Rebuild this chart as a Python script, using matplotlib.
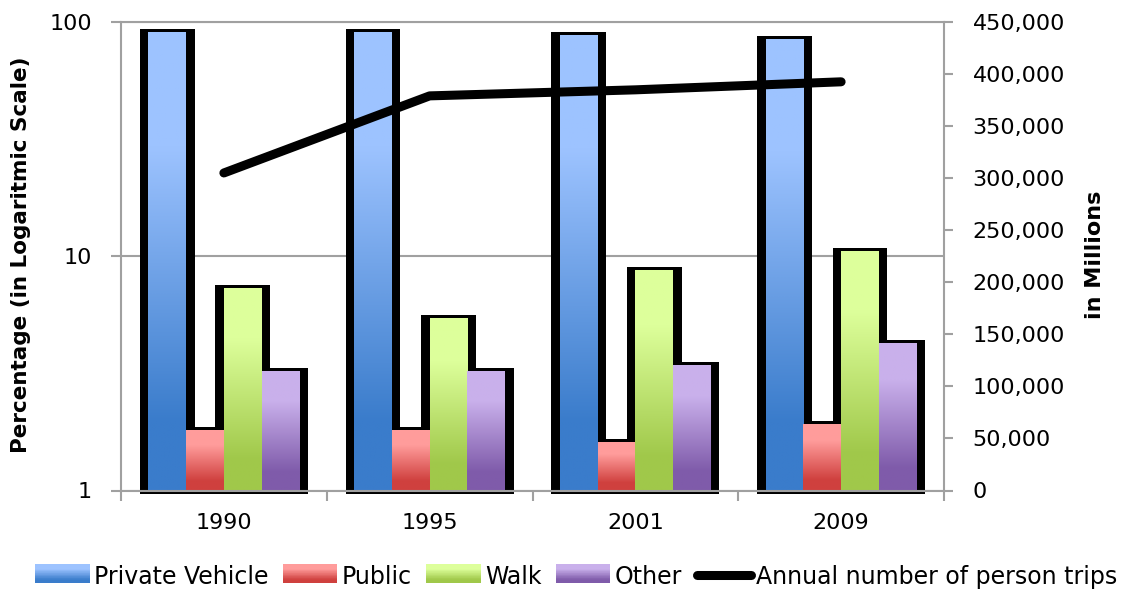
import numpy as np
import matplotlib
matplotlib.use('Agg')
import matplotlib.pyplot as plt
from matplotlib.image import AxesImage
from matplotlib.patches import Rectangle, Patch
from matplotlib.lines import Line2D
from matplotlib.ticker import FixedLocator, FixedFormatter, NullFormatter, NullLocator, FuncFormatter
from matplotlib.colors import to_rgb

# ---------------- data ----------------
years = ['1990', '1995', '2001', '2009']
private_vehicle = [89.2, 89.8, 87.1, 83.5]
public = [1.79, 1.79, 1.60, 1.90]
walk = [7.24, 5.39, 8.64, 10.41]
other = [3.20, 3.20, 3.40, 4.22]
annual_trips = [304800, 378800, 384600, 392300]

series_names = ['Private Vehicle', 'Public', 'Walk', 'Other']
line_name = 'Annual number of person trips'
left_label = 'Percentage (in Logaritmic Scale)'
right_label = 'in Millions'
left_ticks = [1, 10, 100]
right_ticks = list(range(0, 450001, 50000))

light_colors = ['#9DC3FF', '#FF9C9B', '#DDFF9B', '#C9B0EB']
dark_colors = ['#3A7CCB', '#CF403E', '#A0C84A', '#7F5BAA']

GRAY = '#A0A0A0'
FS = 16


def gradient(light, dark, n):
    t = np.linspace(0, 1, n)
    stops = [0.0, 0.25, 0.85, 1.0]
    l, d = np.array(to_rgb(light)), np.array(to_rgb(dark))
    cols = [l, l, d, d]
    out = np.zeros((n, 3))
    for c in range(3):
        out[:, c] = np.interp(t, stops, [cc[c] for cc in cols])
    return out


W, H = 1126, 591
fig = plt.figure(figsize=(W / 100, H / 100), dpi=100)
ax = fig.add_axes([121 / W, 1 - 490.5 / H, (944 - 121) / W, (490.5 - 21.7) / H])
ax.set_yscale('log')
ax.set_xlim(-0.5, len(years) - 0.5)
ax.set_ylim(left_ticks[0], left_ticks[-1])
ax.set_autoscale_on(False)

x = np.arange(len(years))
bw = 37.7 / 205.75
out_x = 8.5 / 205.75
out_top = 10 ** (4 / 234.4)
out_bot = 10 ** (-3 / 234.4)

series = [private_vehicle, public, walk, other]
offsets = (np.arange(len(series)) - (len(series) - 1) / 2) * bw

# black silhouettes (outline layer)
for s, off in zip(series, offsets):
    vals = np.array(s)
    ax.bar(x + off, vals * out_top - out_bot, bottom=out_bot, width=bw + 2 * out_x,
           color='black', linewidth=0, zorder=2, clip_on=False)

# gradient fills
trans = ax.transData + ax.transAxes.inverted()
for s, off, lc, dc in zip(series, offsets, light_colors, dark_colors):
    vals = np.array(s)
    bars = ax.bar(x + off, vals - 1, bottom=1, width=bw, color='none', linewidth=0, zorder=3)
    grad = gradient(lc, dc, 256)[:, None, :].repeat(2, axis=1)
    for xi, v in zip(x + off, vals):
        (a0, b0) = trans.transform((xi - bw / 2, 1))
        (a1, b1) = trans.transform((xi + bw / 2, v))
        im = AxesImage(ax, interpolation='bilinear', origin='upper', extent=(a0, a1, b0, b1))
        im.set_data(grad)
        im.set_transform(ax.transAxes)
        im.set_zorder(3)
        ax.add_image(im)

# axes styling
ax.set_axisbelow(True)
ax.yaxis.set_major_locator(FixedLocator(left_ticks))
ax.yaxis.set_major_formatter(FuncFormatter(lambda v, p: f'{v:g}'))
ax.yaxis.set_minor_locator(NullLocator())
ax.yaxis.set_minor_formatter(NullFormatter())
ax.grid(True, axis='y', which='major', color=GRAY, linewidth=1.5)
ax.tick_params(axis='y', which='major', direction='out', length=7, width=1.5, color=GRAY,
               labelsize=FS, pad=14)

ax.xaxis.set_major_locator(FixedLocator(np.arange(len(years) + 1) - 0.5))
ax.xaxis.set_major_formatter(NullFormatter())
ax.xaxis.set_minor_locator(FixedLocator(x))
ax.xaxis.set_minor_formatter(FixedFormatter(years))
ax.tick_params(axis='x', which='major', direction='out', length=7, width=1.5, color=GRAY)
ax.tick_params(axis='x', which='minor', length=0, labelsize=FS, pad=16)

for sp in ['left', 'bottom', 'top']:
    ax.spines[sp].set_color(GRAY)
    ax.spines[sp].set_linewidth(1.5)
ax.spines['bottom'].set_zorder(10)
ax.spines['right'].set_visible(False)

# secondary axis with line
ax2 = ax.twinx()
ax2.set_ylim(right_ticks[0], right_ticks[-1])
ax2.yaxis.set_major_locator(FixedLocator(right_ticks))
ax2.yaxis.set_major_formatter(FuncFormatter(lambda v, p: f'{int(v):,}'))
ax2.tick_params(axis='y', direction='out', length=6.5, width=1.5, color=GRAY, labelsize=FS, pad=14)
for sp in ['left', 'bottom', 'top']:
    ax2.spines[sp].set_visible(False)
ax2.spines['right'].set_color(GRAY)
ax2.spines['right'].set_linewidth(1.5)
ax2.plot(x, annual_trips, color='black', linewidth=6.5, solid_capstyle='round', zorder=5)

fig.text(21 / W, 1 - 255 / H, left_label, rotation=90, ha='center', va='center',
         fontsize=15.5, fontweight='bold')
fig.text(1095 / W, 1 - 255 / H, right_label, rotation=90, ha='center', va='center',
         fontsize=16, fontweight='bold')


class GradientHandler:
    def __init__(self, light, dark):
        self.light, self.dark = light, dark

    def legend_artist(self, legend, orig_handle, fontsize, handlebox):
        x0, y0 = handlebox.xdescent, handlebox.ydescent
        w, h = handlebox.width, handlebox.height
        n = 30
        cols = gradient(self.light, self.dark, n)
        r = None
        for i in range(n):
            r = Rectangle((x0, y0 + h * (n - 1 - i) / n), w, h / n * 1.02, facecolor=cols[i],
                          edgecolor='none', linewidth=0, antialiased=False,
                          transform=handlebox.get_transform())
            handlebox.add_artist(r)
        return r


handles, hmap = [], {}
for name, lc, dc in zip(series_names, light_colors, dark_colors):
    p = Patch(label=name)
    handles.append(p)
    hmap[p] = GradientHandler(lc, dc)
handles.append(Line2D([], [], color='black', linewidth=6.5, solid_capstyle='round'))
labels = series_names + [line_name]

fig.legend(handles, labels, handler_map=hmap, loc='center', bbox_to_anchor=(576 / W, 1 - 577 / H),
           ncol=5, frameon=False, fontsize=17, handlelength=2.3, handleheight=0.85,
           handletextpad=0.2, columnspacing=0.6, borderaxespad=0, borderpad=0)

fig.savefig('out.png', dpi=100)
